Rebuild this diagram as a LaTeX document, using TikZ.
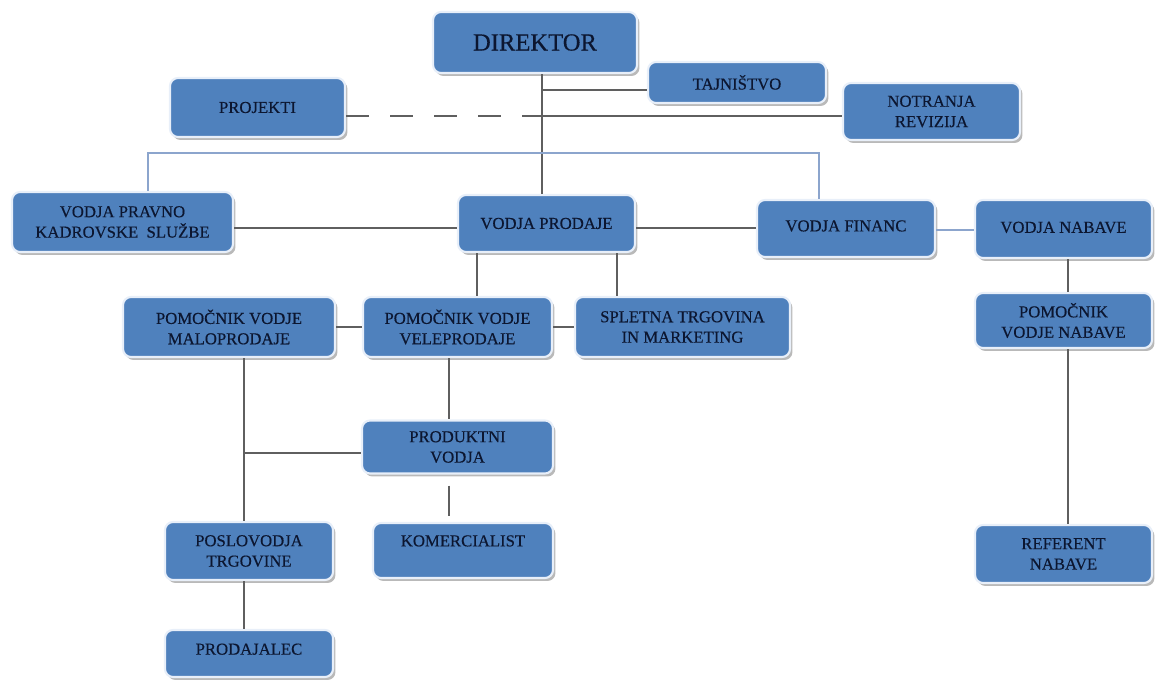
\documentclass[tikz,border=0pt]{standalone}
\usepackage{fontspec}
\setmainfont{Liberation Serif}
\newfontfamily\boxfont[FakeBold=0.35]{Liberation Serif}
\usepackage{tikz}
\usetikzlibrary{calc,positioning,shadows}

\definecolor{boxblue}{RGB}{79,129,189}
\definecolor{boxrim}{RGB}{232,239,249}
\definecolor{boxtext}{RGB}{12,22,48}
\definecolor{linkgray}{RGB}{95,95,95}
\definecolor{linkblue}{RGB}{140,165,205}

\tikzset{
	box/.style={rectangle, rounded corners=0.16cm, fill=boxblue, draw=boxrim, line width=1.2pt,
		drop shadow={shadow xshift=0.05cm, shadow yshift=-0.06cm, fill=black!50, opacity=0.55},
		text=boxtext, align=center, inner sep=0pt, font=\boxfont\fontsize{9.5}{11.6}\selectfont},
	link/.style={draw=linkgray, line width=1.1pt},
	bluelink/.style={draw=linkblue, line width=1pt},
	raised/.style={text depth=#1}
}

\begin{document}
\begin{tikzpicture}[x=0.02cm,y=-0.02cm]
		\useasboundingbox (0,0) rectangle (1157,682);
		
		% top
		\node[box, minimum width=4.08cm, minimum height=1.22cm, font=\boxfont\fontsize{14}{16}\selectfont] (direktor) at (535,42.5) {DIREKTOR};
		\node[box, minimum width=3.56cm, minimum height=0.82cm] (tajnistvo) at (737,82.5) {TAJNIŠTVO};
		\node[box, minimum width=3.54cm, minimum height=1.14cm] (revizija) at (931.5,111.5) {NOTRANJA\\ REVIZIJA};
		\node[box, minimum width=3.5cm, minimum height=1.18cm] (projekti) at (257.5,107.5) {PROJEKTI};
		
		% vodje
		\node[box, minimum width=4.42cm, minimum height=1.2cm] (pravno) at (122.5,222) {VODJA PRAVNO\\ KADROVSKE \ SLUŽBE};
		\node[box, minimum width=3.54cm, minimum height=1.14cm] (prodaja) at (546.5,223.5) {VODJA PRODAJE};
		\node[box, minimum width=3.56cm, minimum height=1.14cm, raised=3pt] (financ) at (846,228.5) {VODJA FINANC};
		\node[box, minimum width=3.54cm, minimum height=1.16cm, raised=2pt] (nabava) at (1063.5,229) {VODJA NABAVE};
		
		% pomocniki
		\node[box, minimum width=4.24cm, minimum height=1.2cm] (maloprod) at (229,327) {POMOČNIK VODJE\\ MALOPRODAJE};
		\node[box, minimum width=3.78cm, minimum height=1.2cm] (veleprod) at (457.5,327) {POMOČNIK VODJE\\ VELEPRODAJE};
		\node[box, minimum width=4.3cm, minimum height=1.2cm] (splet) at (682.5,327) {SPLETNA TRGOVINA\\ IN MARKETING};
		\node[box, minimum width=3.54cm, minimum height=1.1cm] (pomnabava) at (1063.5,320.5) {POMOČNIK\\ VODJE NABAVE};
		
		% spodaj
		\node[box, minimum width=3.82cm, minimum height=1.06cm] (produkt) at (457.5,447) {PRODUKTNI\\ VODJA};
		\node[box, minimum width=3.36cm, minimum height=1.16cm] (poslov) at (249,551) {POSLOVODJA\\ TRGOVINE};
		\node[box, minimum width=3.6cm, minimum height=1.1cm, raised=11pt] (komerc) at (463,550.5) {KOMERCIALIST};
		\node[box, minimum width=3.36cm, minimum height=0.94cm, raised=5pt] (prodajalec) at (249,653.5) {PRODAJALEC};
		\node[box, minimum width=3.54cm, minimum height=1.16cm] (referent) at (1063.5,554) {REFERENT\\ NABAVE};
		
		% povezave
		\coordinate (trunk) at (542,0);
		\coordinate (tj) at (542,90);
		\coordinate (rv) at (542,116);
		\draw[link] (direktor.south -| trunk) -- (prodaja.north -| trunk);
		\draw[link] (tj) -- (tj -| tajnistvo.west);
		\draw[link] (rv) -- (rv -| revizija.west);
		\draw[link, dash pattern=on 0.46cm off 0.42cm] (rv -| projekti.east) -- (rv);
		
		\coordinate (bl) at (148,153);
		\coordinate (br) at (819,153);
		\draw[bluelink] (pravno.north -| bl) -- (bl) -- (br) -- (financ.north -| br);
		
		\coordinate (pp) at (0,228);
		\coordinate (fn) at (0,230);
		\draw[link] (pravno.east |- pp) -- (prodaja.west |- pp);
		\draw[link] (prodaja.east |- pp) -- (financ.west |- pp);
		\draw[bluelink] (financ.east |- fn) -- (nabava.west |- fn);
		
		\coordinate (pv) at (477,0);
		\coordinate (ps) at (617,0);
		\draw[link] (prodaja.south -| pv) -- (veleprod.north -| pv);
		\draw[link] (prodaja.south -| ps) -- (splet.north -| ps);
		\draw[link] (maloprod.east) -- (veleprod.west);
		\draw[link] (veleprod.east) -- (splet.west);
		
		\coordinate (mp) at (244,0);
		\coordinate (pk) at (244,453);
		\coordinate (vk) at (449,0);
		\draw[link] (maloprod.south -| mp) -- (poslov.north -| mp);
		\draw[link] (pk) -- (produkt.west |- pk);
		\draw[link] (veleprod.south -| vk) -- (produkt.north -| vk);
		\draw[link, shorten <=0.22cm, shorten >=0.12cm] (produkt.south -| vk) -- (komerc.north -| vk);
		\draw[link] (poslov.south -| mp) -- (prodajalec.north -| mp);
		
		\coordinate (nb) at (1068,0);
		\draw[link] (nabava.south -| nb) -- (pomnabava.north -| nb);
		\draw[link] (pomnabava.south -| nb) -- (referent.north -| nb);
		\end{tikzpicture}
\end{document}
